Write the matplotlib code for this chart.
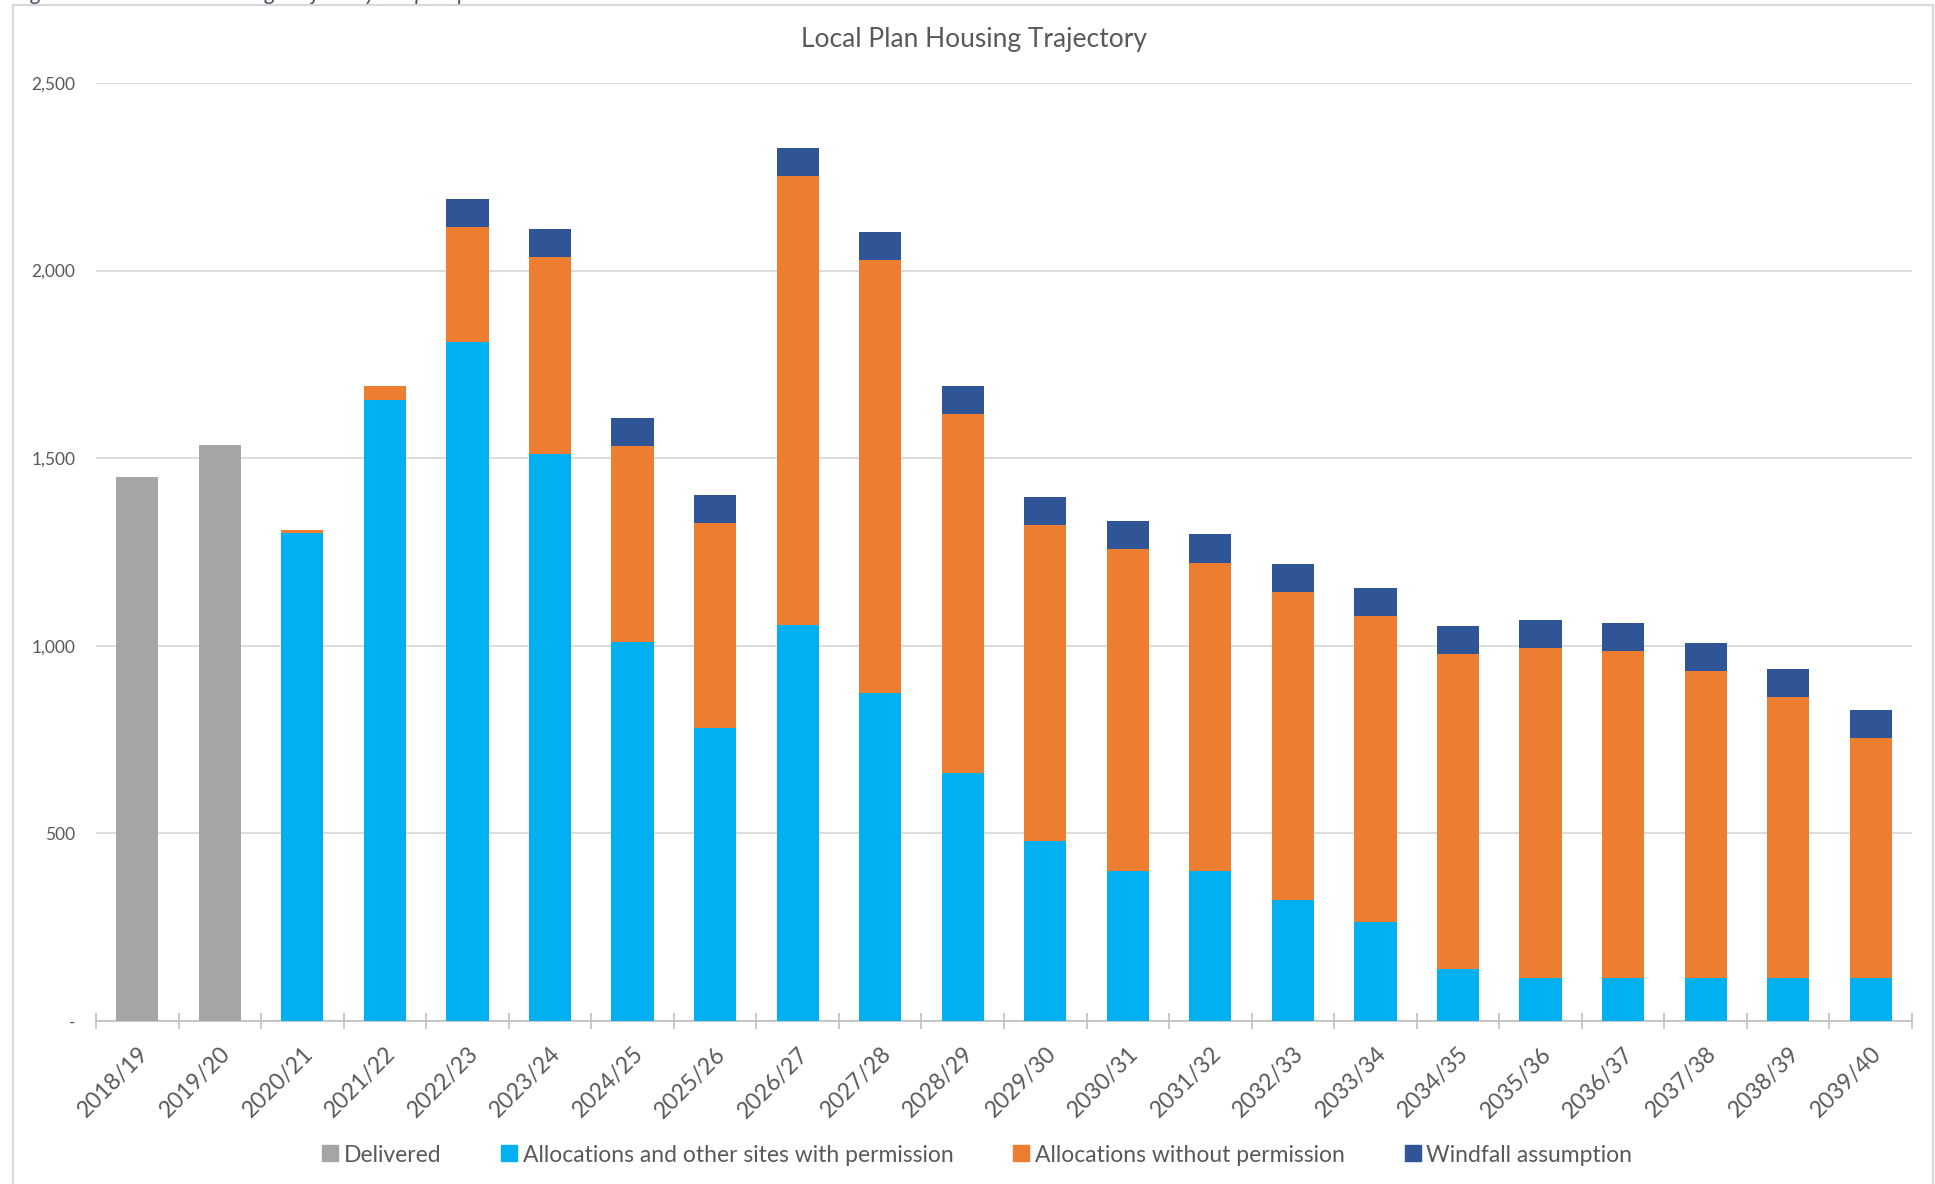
import matplotlib
matplotlib.use("Agg")
import matplotlib.pyplot as plt
from matplotlib.lines import Line2D
from matplotlib.patches import Rectangle
import numpy as np

plt.rcParams['font.family'] = ['Lato', 'DejaVu Sans']

# ================= DATA =================
years = ["2018/19", "2019/20", "2020/21", "2021/22", "2022/23", "2023/24",
         "2024/25", "2025/26", "2026/27", "2027/28", "2028/29", "2029/30",
         "2030/31", "2031/32", "2032/33", "2033/34", "2034/35", "2035/36",
         "2036/37", "2037/38", "2038/39", "2039/40"]

delivered = [1450, 1535, 0, 0, 0, 0, 0, 0, 0, 0, 0, 0,
             0, 0, 0, 0, 0, 0, 0, 0, 0, 0]
with_permission = [0, 0, 1300, 1655, 1810, 1510, 1010, 780, 1055, 873, 662, 481,
                   399, 399, 323, 264, 138, 115, 115, 115, 115, 115]
without_permission = [0, 0, 8, 38, 305, 525, 522, 547, 1198, 1156, 955, 840,
                      859, 823, 820, 816, 840, 880, 870, 817, 748, 639]
windfall = [0, 0, 0, 0, 75, 75, 75, 75, 75, 75, 75, 75,
            75, 75, 75, 75, 75, 75, 75, 75, 75, 75]

series_names = ["Delivered", "Allocations and other sites with permission",
                "Allocations without permission", "Windfall assumption"]
series_colors = ["#A5A5A5", "#00B0F0", "#ED7D31", "#2F5597"]

# ================= FIGURE =================
W, H = 1935, 1184
fig = plt.figure(figsize=(W / 100, H / 100), dpi=100)
ax = fig.add_axes([96 / W, 1 - 1021 / H, (1912 - 96) / W, (1021 - 83) / H])

x = np.arange(len(years))
bottom = np.zeros(len(years))
for vals, name, col in zip([delivered, with_permission, without_permission, windfall],
                           series_names, series_colors):
    vals = np.array(vals, dtype=float)
    ax.bar(x, vals, width=0.51, bottom=bottom, color=col, label=name, zorder=3)
    bottom += vals

ax.set_xlim(-0.5, len(years) - 0.5)
ax.set_ylim(0, 2500)

# y axis
yt = [0, 500, 1000, 1500, 2000, 2500]
ax.set_yticks(yt)
ax.set_yticklabels(["-" if v == 0 else f"{v:,}" for v in yt])
ax.tick_params(axis="y", length=0, pad=15, labelsize=12.5, labelcolor="#595959")
ax.grid(axis="y", color="#D9D9D9", lw=1.3, zorder=0)

# x axis
ax.set_xticks(x)
ax.set_xticklabels(years)
ax.set_xticks(np.arange(-0.5, len(years), 1), minor=True)
ax.tick_params(axis="x", which="major", length=0, pad=16, labelsize=16.5,
               labelcolor="#595959")
ax.tick_params(axis="x", which="minor", direction="inout", length=11,
               color="#BFBFBF", width=1.2)
for lab in ax.get_xticklabels():
    lab.set_rotation(45)
    lab.set_ha("right")
    lab.set_va("top")
    lab.set_rotation_mode("anchor")

for s in ["left", "right", "top"]:
    ax.spines[s].set_visible(False)
ax.spines["bottom"].set_color("#BFBFBF")
ax.spines["bottom"].set_linewidth(1.2)

# title
fig.text(974 / W, 1 - 40 / H, "Local Plan Housing Trajectory", ha="center",
         va="center", fontsize=19, color="#595959")

# legend
handles = [Line2D([], [], marker="s", linestyle="none", markersize=11,
                  color=c) for c in series_colors]
fig.legend(handles, series_names, loc="center", bbox_to_anchor=(978 / W, 1 - 1155 / H),
           ncol=4, frameon=False, fontsize=16.5, labelcolor="#595959",
           handlelength=0.55, handletextpad=0.3, columnspacing=2.7)

# outer chart border
fig.patches.append(Rectangle((13 / W, -0.05), (1933 - 13) / W, 1.05 - 5 / H,
                             transform=fig.transFigure, fill=False,
                             edgecolor="#D9D9D9", lw=1.5, clip_on=False))

# caption cut off at the top of the page
fig.text(14 / W, 1 - 0.5 / H, "Figure 4: Local Plan Housing Trajectory Graph April 2020",
         ha="left", va="baseline", fontsize=16, style="italic", color="#44546A")

fig.savefig("out.png", dpi=100)
